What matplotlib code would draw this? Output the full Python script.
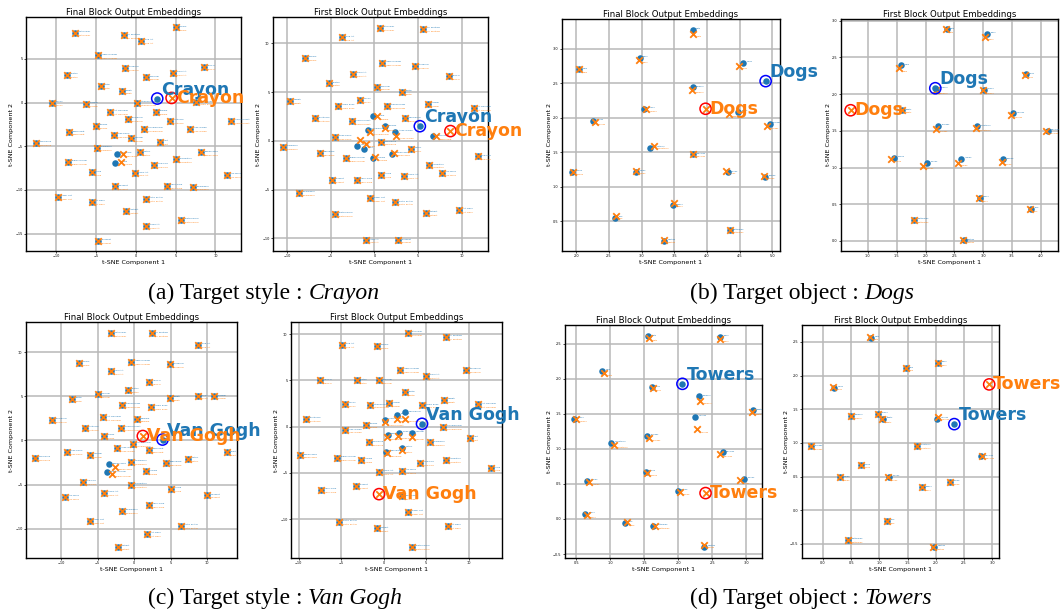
import numpy as np
import matplotlib
matplotlib.use("Agg")
import matplotlib.pyplot as plt
from matplotlib.text import Annotation

BLUE = "#1f77b4"
ORANGE = "#ff7f0e"

# small labels next to each point
style_names = ["Watercolor", "Oil Painting", "Pop Art", "Cubism", "Impressionism", "Surrealism",
               "Pixel Art", "Ukiyo-e", "Sketch", "Charcoal", "Pastel", "Graffiti", "Mosaic",
               "Origami", "Stained Glass", "Comic Book", "Art Nouveau", "Baroque", "Minimalism",
               "Pointillism", "Claude Monet", "Picasso", "Salvador Dali", "Andy Warhol",
               "Rembrandt", "Frida Kahlo", "Hokusai", "Klimt", "Cyberpunk", "Steampunk",
               "Vaporwave", "Gothic", "Renaissance", "Expressionism", "Fauvism", "Low Poly",
               "Claymation", "Anime", "Chalk Art", "Ink Wash", "Woodcut", "Neon Glow",
               "Embroidery", "Paper Cut", "Retro Poster", "Art Deco", "Abstract",
               "Photorealism", "Sand Art", "Blueprint", "Tattoo", "Doodle"]
object_names = ["Cats", "Birds", "Cars", "Trees", "Flowers", "Horses", "Boats", "Houses",
                "Bridges", "Mountains", "Bicycles", "Chairs", "Apples", "Clocks", "Lamps",
                "Books", "Fish", "Butterflies", "Castles", "Airplanes", "Guitars"]

# ---- (a) Crayon ----
a_final_blue = [(-7.6, 8.0), (-1.5, 7.7), (0.7, 7.1), (5.0, 8.6), (-4.7, 5.4), (-1.4, 4.0), (4.7, 3.4),
                (8.5, 4.1), (-8.6, 3.2), (1.3, 2.9), (-4.4, 1.9), (-1.75, 1.3), (-10.5, 0.0), (-6.2, -0.15),
                (0.2, -0.04), (7.5, 0.04), (-3.2, -1.07), (2.5, -1.1), (-1.0, -1.9), (4.25, -2.1),
                (11.9, -2.1), (-5.0, -2.7), (1.1, -3.0), (6.75, -3.0), (-8.3, -3.4), (-2.75, -3.7),
                (-0.6, -4.1), (3.0, -4.5), (-12.5, -4.6), (-4.9, -5.2), (-2.4, -5.9), (0.6, -5.7),
                (8.2, -5.7), (-8.5, -6.75), (-2.6, -6.9), (2.3, -7.1), (5.1, -6.5), (-5.5, -8.0),
                (-0.1, -8.1), (11.5, -8.3), (-2.6, -9.6), (3.9, -9.5), (7.2, -9.7), (-9.75, -10.8),
                (1.25, -11.0), (-5.5, -11.4), (-1.2, -12.4), (5.7, -13.4), (1.3, -14.1), (-4.75, -15.8)]
a_final_orange = [(-7.6, 8.0), (-1.5, 7.7), (0.7, 7.1), (5.0, 8.6), (-4.7, 5.4), (-1.4, 4.0), (4.7, 3.4),
                  (8.5, 4.1), (-8.6, 3.2), (1.3, 2.9), (-4.4, 1.9), (-1.75, 1.3), (-10.5, 0.0), (-6.2, -0.15),
                  (0.2, -0.04), (7.5, 0.04), (-3.2, -1.07), (2.5, -1.1), (-1.0, -1.9), (4.25, -2.1),
                  (11.9, -2.1), (-5.0, -2.7), (1.1, -3.0), (6.75, -3.0), (-8.3, -3.4), (-2.75, -3.7),
                  (-0.6, -4.1), (3.0, -4.5), (-12.5, -4.6), (-4.9, -5.2), (-1.6, -5.9), (0.6, -5.7),
                  (8.2, -5.7), (-8.5, -6.75), (-1.9, -6.8), (2.3, -7.1), (5.1, -6.5), (-5.5, -8.0),
                  (-0.1, -8.1), (11.5, -8.3), (-2.6, -9.6), (3.9, -9.5), (7.2, -9.7), (-9.75, -10.8),
                  (1.25, -11.0), (-5.5, -11.4), (-1.2, -12.4), (5.7, -13.4), (1.3, -14.1), (-4.75, -15.8)]
a_final_target = [(2.7, 0.46), (4.5, 0.53)]

a_first_blue = [(0.6, 11.6), (5.6, 11.5), (-3.7, 10.6), (-7.9, 8.5), (0.9, 8.0), (4.6, 7.7), (-2.4, 6.9),
                (8.5, 6.6), (-5.2, 5.9), (0.3, 5.5), (3.2, 5.0), (-9.6, 4.1), (-1.6, 4.2), (6.1, 3.8),
                (1.4, 3.6), (-4.2, 3.6), (11.4, 3.4), (-0.2, 2.5), (3.5, 2.3), (-6.75, 2.3), (-2.6, 2.0),
                (1.2, 1.5), (-0.75, 1.1), (2.4, 0.9), (6.75, 0.45), (-4.5, 0.4), (-1.95, -0.5),
                (-1.2, -0.85), (0.75, -0.15), (-10.5, -0.6), (-6.25, -1.2), (4.2, -0.8), (2.05, -1.3),
                (-3.2, -1.8), (-0.15, -1.8), (11.8, -1.6), (6.2, -2.5), (0.8, -3.5), (3.4, -3.6),
                (7.75, -3.3), (-4.9, -4.0), (-2.0, -4.0), (-8.6, -5.3), (-0.45, -5.9), (2.4, -6.3),
                (9.7, -7.1), (5.9, -7.4), (-4.5, -7.5), (-1.0, -10.2), (2.75, -10.2)]
a_first_orange = [(0.6, 11.6), (5.6, 11.5), (-3.7, 10.6), (-7.9, 8.5), (0.9, 8.0), (4.6, 7.7), (-2.4, 6.9),
                  (8.5, 6.6), (-5.2, 5.9), (0.3, 5.5), (3.2, 5.0), (-9.6, 4.1), (-1.6, 4.2), (6.1, 3.8),
                  (1.4, 3.6), (-4.2, 3.6), (11.4, 3.4), (0.27, 2.5), (3.5, 2.3), (-6.75, 2.3), (-2.6, 2.0),
                  (1.2, 1.3), (-0.45, 0.9), (2.5, 0.5), (7.1, 0.45), (-4.5, 0.4), (-1.7, 0.1),
                  (-0.95, -0.35), (0.75, -0.15), (-10.5, -0.6), (-6.25, -1.2), (4.2, -0.8), (2.2, -1.2),
                  (-3.2, -1.8), (0.1, -1.7), (11.8, -1.6), (6.2, -2.5), (0.8, -3.5), (3.4, -3.6),
                  (7.75, -3.3), (-4.9, -4.0), (-2.0, -4.0), (-8.6, -5.3), (-0.45, -5.9), (2.4, -6.3),
                  (9.7, -7.1), (5.9, -7.4), (-4.5, -7.5), (-1.0, -10.2), (2.75, -10.2)]
a_first_target = [(5.2, 1.5), (8.7, 1.0)]

# ---- (b) Dogs ----
b_final_blue = [(3.78, 3.27), (2.97, 2.87), (2.04, 2.70), (4.56, 2.79), (3.78, 2.44), (3.04, 2.13),
                (4.48, 2.09), (2.25, 1.95), (4.96, 1.91), (3.13, 1.56), (3.79, 1.47), (1.94, 1.22),
                (2.91, 1.22), (4.32, 1.21), (4.89, 1.14), (3.48, 0.73), (2.59, 0.55), (4.35, 0.37), (3.35, 0.22)]
b_final_orange = [(3.79, 3.21), (2.96, 2.84), (2.04, 2.70), (4.49, 2.75), (3.77, 2.40), (3.07, 2.13),
                  (4.34, 2.06), (2.28, 1.94), (4.92, 1.88), (3.19, 1.59), (3.79, 1.48), (1.95, 1.22),
                  (2.91, 1.23), (4.29, 1.23), (4.88, 1.16), (3.49, 0.76), (2.60, 0.58), (4.35, 0.38), (3.35, 0.23)]
b_final_target = [(4.90, 2.53), (3.98, 2.13)]

b_first_blue = [(2.37, 2.88), (3.07, 2.82), (1.58, 2.39), (3.74, 2.27), (2.19, 2.07), (3.01, 2.06),
                (1.59, 1.78), (3.52, 1.74), (2.22, 1.57), (2.89, 1.56), (4.12, 1.50), (1.46, 1.13),
                (2.62, 1.12), (2.03, 1.06), (3.35, 1.11), (2.94, 0.59), (3.83, 0.44), (1.80, 0.29), (2.66, 0.01)]
b_first_orange = [(2.35, 2.88), (3.04, 2.78), (1.54, 2.35), (3.72, 2.26), (2.18, 2.05), (3.00, 2.05),
                  (1.59, 1.78), (3.49, 1.72), (2.18, 1.53), (2.88, 1.54), (4.10, 1.50), (1.40, 1.12),
                  (2.56, 1.06), (1.96, 1.02), (3.32, 1.08), (2.92, 0.58), (3.82, 0.44), (1.80, 0.29), (2.65, 0.01)]
b_first_target = [(2.17, 2.08), (0.70, 1.78)]

# ---- (c) Van Gogh ----
c_final_blue = [(-3.1, 12.1), (2.4, 12.1), (8.8, 10.8), (-7.6, 8.8), (-0.4, 8.9), (4.9, 8.6), (-3.2, 7.8),
                (2.05, 6.6), (-0.8, 5.7), (-5.0, 5.2), (-8.5, 4.7), (4.9, 4.8), (8.7, 5.0), (11.0, 5.0),
                (-1.7, 4.0), (2.3, 3.8), (-4.2, 2.6), (0.45, 2.4), (-11.3, 2.3), (-6.75, 1.4), (-1.75, 1.4),
                (-4.15, 0.5), (-0.2, -0.4), (-2.3, -0.9), (2.0, -1.1), (-9.2, -1.3), (-6.0, -1.6),
                (12.7, -1.35), (-13.5, -2.0), (-0.4, -2.4), (4.4, -2.55), (7.4, -2.1), (-3.4, -2.7),
                (-3.7, -3.6), (1.6, -3.5), (-7.0, -4.7), (-0.4, -5.0), (5.1, -5.45), (-4.1, -5.9),
                (-9.4, -6.4), (10.0, -6.2), (2.05, -7.3), (-1.6, -8.0), (-6.1, -9.1), (6.4, -9.7),
                (1.8, -10.6), (-2.2, -12.0)]
c_final_orange = [(-3.1, 12.1), (2.4, 12.1), (8.8, 10.8), (-7.6, 8.8), (-0.4, 8.9), (4.9, 8.6), (-3.2, 7.8),
                  (2.05, 6.6), (-0.8, 5.7), (-5.0, 5.2), (-8.5, 4.7), (4.9, 4.8), (8.7, 5.0), (11.0, 5.0),
                  (-1.7, 4.0), (2.3, 3.8), (-4.2, 2.6), (0.45, 2.4), (-11.3, 2.3), (-6.75, 1.4), (-1.75, 1.4),
                  (-4.15, 0.5), (-0.2, -0.4), (-2.3, -0.9), (2.0, -1.1), (-9.2, -1.3), (-6.0, -1.6),
                  (12.7, -1.35), (-13.5, -2.0), (-0.4, -2.4), (4.4, -2.55), (7.4, -2.1), (-2.6, -3.0),
                  (-3.0, -3.8), (1.6, -3.5), (-7.0, -4.7), (-0.4, -5.0), (5.1, -5.45), (-4.1, -5.9),
                  (-9.4, -6.4), (10.0, -6.2), (2.05, -7.3), (-1.6, -8.0), (-6.1, -9.1), (6.4, -9.7),
                  (1.8, -10.6), (-2.2, -12.0)]
c_final_target = [(3.9, 0.1), (1.2, 0.5)]

c_first_blue = [(2.8, 10.1), (7.3, 9.7), (-4.9, 8.8), (-0.8, 8.7), (1.95, 6.1), (9.7, 6.1), (5.0, 5.5),
                (-7.5, 5.0), (-3.2, 5.0), (-0.5, 5.0), (2.5, 3.7), (7.1, 2.9), (-4.5, 2.45), (0.6, 2.5),
                (-1.6, 2.3), (4.5, 2.3), (11.1, 2.4), (1.6, 1.3), (2.5, 1.55), (-9.1, 0.8), (0.1, 0.7),
                (-2.1, 0.2), (7.0, 0.0), (-4.6, -0.4), (0.45, -0.9), (1.85, -0.7), (3.35, -0.7),
                (10.1, -1.2), (-1.75, -1.7), (5.4, -1.7), (0.3, -2.7), (2.2, -2.3), (-9.8, -3.1),
                (-5.5, -3.4), (-2.7, -3.6), (4.3, -3.9), (7.3, -3.6), (12.6, -4.5), (-0.5, -4.9),
                (2.15, -4.8), (-3.3, -6.4), (-7.4, -6.8), (2.2, -7.55), (2.9, -9.2), (-5.2, -10.3),
                (7.5, -10.75), (-0.8, -11.0), (3.3, -13.0)]
c_first_orange = [(2.8, 10.1), (7.3, 9.7), (-4.9, 8.8), (-0.8, 8.7), (1.95, 6.1), (9.7, 6.1), (5.0, 5.5),
                  (-7.5, 5.0), (-3.2, 5.0), (-0.5, 5.0), (2.5, 3.7), (7.1, 2.9), (-4.5, 2.45), (0.6, 2.5),
                  (-1.6, 2.3), (4.5, 2.3), (11.1, 2.4), (1.6, 0.8), (2.5, 0.85), (-9.1, 0.8), (0.15, 0.45),
                  (-2.1, 0.2), (7.0, 0.0), (-4.6, -0.4), (0.35, -1.15), (1.7, -1.0), (3.35, -1.1),
                  (10.1, -1.2), (-1.75, -1.7), (5.4, -1.7), (0.35, -2.9), (2.2, -2.5), (-9.8, -3.1),
                  (-5.5, -3.4), (-2.7, -3.6), (4.3, -3.9), (7.3, -3.6), (12.6, -4.5), (-0.5, -4.9),
                  (2.15, -4.8), (-3.3, -6.4), (-7.4, -6.8), (2.2, -7.55), (2.9, -9.2), (-5.2, -10.3),
                  (7.5, -10.75), (-0.8, -11.0), (3.3, -13.0)]
c_first_target = [(4.5, 0.3), (-0.55, -7.3)]

# ---- (d) Towers ----
d_final_blue = [(1.56, 2.61), (2.61, 2.60), (0.88, 2.12), (1.61, 1.88), (2.31, 1.75), (0.46, 1.43),
                (3.10, 1.55), (2.25, 1.46), (1.54, 1.19), (1.01, 1.09), (2.65, 0.95), (1.52, 0.67),
                (0.66, 0.54), (2.97, 0.57), (1.99, 0.40), (0.63, 0.07), (1.22, -0.06), (1.63, -0.10), (2.38, -0.40)]
d_final_orange = [(1.57, 2.59), (2.61, 2.57), (0.91, 2.09), (1.62, 1.87), (2.32, 1.69), (0.50, 1.43),
                  (3.08, 1.53), (2.28, 1.28), (1.57, 1.16), (1.05, 1.06), (2.61, 0.93), (1.54, 0.66),
                  (0.69, 0.53), (2.90, 0.55), (2.02, 0.39), (0.65, 0.06), (1.25, -0.05), (1.66, -0.10), (2.37, -0.37)]
d_final_target = [(2.06, 1.93), (2.40, 0.37)]

d_first_blue = [(0.86, 2.56), (2.04, 2.19), (1.47, 2.11), (0.20, 1.82), (0.50, 1.40), (0.97, 1.43),
                (1.07, 1.36), (2.02, 1.36), (-0.21, 0.95), (1.66, 0.96), (2.81, 0.80), (0.67, 0.67),
                (0.30, 0.49), (1.17, 0.50), (2.25, 0.42), (1.76, 0.34), (1.14, -0.16), (0.44, -0.44), (1.97, -0.54)]
d_first_orange = [(0.84, 2.57), (2.04, 2.19), (1.47, 2.12), (0.18, 1.83), (0.49, 1.40), (0.97, 1.43),
                  (1.05, 1.35), (2.04, 1.39), (-0.21, 0.95), (1.66, 0.96), (2.82, 0.81), (0.67, 0.67),
                  (0.30, 0.49), (1.15, 0.49), (2.25, 0.42), (1.75, 0.34), (1.14, -0.16), (0.44, -0.44), (1.96, -0.54)]
d_first_target = [(2.33, 1.28), (2.95, 1.87)]

W, H = 1061, 613
fig = plt.figure(figsize=(W / 100, H / 100), dpi=100)


def px_axes(l, r, t, b):
    return fig.add_axes([l / W, 1 - b / H, (r - l) / W, (b - t) / H])


def panel(box, title, blue, orange, names, target, word, xlim, ylim, xticks, yticks):
    ax = px_axes(*box)
    ax.set_axisbelow(True)
    ax.grid(True, color="#b8b8b8", lw=1.1)
    bx, by = np.array(blue).T
    ox, oy = np.array(orange).T
    ax.scatter(bx, by, s=22, color=BLUE, zorder=3, linewidths=0)
    ax.scatter(ox, oy, s=22, marker="x", color=ORANGE, zorder=4, linewidths=1.3)
    for i in range(len(bx)):
        ax.annotate(names[i], (bx[i], by[i]), xytext=(2.5, 0.5), textcoords="offset points",
                    fontsize=1.6, color=BLUE)
        ax.annotate(names[i], (ox[i], oy[i]), xytext=(2.5, -2.3), textcoords="offset points",
                    fontsize=1.6, color=ORANGE)
    (tbx, tby), (tox, toy) = target
    ax.scatter([tbx], [tby], s=22, color=BLUE, zorder=5, linewidths=0)
    ax.scatter([tbx], [tby], s=65, facecolors="none", edgecolors="blue", zorder=5, linewidths=1.1)
    ax.scatter([tox], [toy], s=22, marker="x", color=ORANGE, zorder=5, linewidths=1.3)
    ax.scatter([tox], [toy], s=65, facecolors="none", edgecolors="red", zorder=5, linewidths=1.1)
    ax.annotate(word, (tbx, tby), xytext=(3, 0), textcoords="offset points", fontsize=12.5,
                fontweight="bold", color=BLUE, ha="left", va="bottom", zorder=6,
                annotation_clip=False)
    ax.annotate(word, (tox, toy), xytext=(3, 0), textcoords="offset points", fontsize=12.5,
                fontweight="bold", color=ORANGE, ha="left", va="center", zorder=6,
                annotation_clip=False)
    ax.set_xlim(*xlim)
    ax.set_ylim(*ylim)
    ax.set_xticks(xticks)
    ax.set_yticks(yticks)
    ax.tick_params(labelsize=2.5, length=1.5, width=0.5, pad=1)
    ax.set_title(title, fontsize=6.2, pad=1.5)
    ax.set_xlabel("t-SNE Component 1", fontsize=4.6, labelpad=1)
    ax.set_ylabel("t-SNE Component 2", fontsize=4.6, labelpad=1)
    for sp in ax.spines.values():
        sp.set_linewidth(1.0)
    return ax


FINAL = "Final Block Output Embeddings"
FIRST = "First Block Output Embeddings"
t10 = [-10, -5, 0, 5, 10]

panel((26, 241, 17, 251), FINAL, a_final_blue, a_final_orange, style_names, a_final_target, "Crayon",
      (-13.75, 13.2), (-17.0, 9.8), t10, [-15, -10, -5, 0, 5])
panel((273, 488, 17, 251), FIRST, a_first_blue, a_first_orange, style_names, a_first_target, "Crayon",
      (-11.6, 13.0), (-11.3, 12.7), t10, t10)
panel((562, 780, 19, 251), FINAL, b_final_blue, b_final_orange, object_names, b_final_target, "Dogs",
      (1.78, 5.12), (0.07, 3.43), [2.0, 2.5, 3.0, 3.5, 4.0, 4.5, 5.0], [0.5, 1.0, 1.5, 2.0, 2.5, 3.0])
panel((841, 1058, 19, 251), FIRST, b_first_blue, b_first_orange, object_names, b_first_target, "Dogs",
      (0.533, 4.30), (-0.137, 3.023), [1.0, 1.5, 2.0, 2.5, 3.0, 3.5, 4.0],
      [0.0, 0.5, 1.0, 1.5, 2.0, 2.5, 3.0])
panel((26, 237, 322, 558), FINAL, c_final_blue, c_final_orange, style_names, c_final_target, "Van Gogh",
      (-14.8, 14.1), (-13.3, 13.4), t10, t10)
panel((291, 502, 322, 558), FIRST, c_first_blue, c_first_orange, style_names, c_first_target, "Van Gogh",
      (-10.9, 13.9), (-14.2, 11.3), t10, t10)
panel((565, 762, 325, 558), FINAL, d_final_blue, d_final_orange, object_names, d_final_target, "Towers",
      (0.333, 3.23), (-0.557, 2.77), [0.5, 1.0, 1.5, 2.0, 2.5, 3.0],
      [-0.5, 0.0, 0.5, 1.0, 1.5, 2.0, 2.5])
panel((802, 999, 325, 558), FIRST, d_first_blue, d_first_orange, object_names, d_first_target, "Towers",
      (-0.373, 3.124), (-0.708, 2.752), [0.0, 0.5, 1.0, 1.5, 2.0, 2.5, 3.0],
      [-0.5, 0.0, 0.5, 1.0, 1.5, 2.0, 2.5])

# sub-captions: upright prefix + italic target word
captions = [("(a) Target style :", "Crayon", 148, 293),
            ("(b) Target object :", "Dogs", 690, 293),
            ("(c) Target style :", "Van Gogh", 148, 598),
            ("(d) Target object :", "Towers", 690, 598)]
for pre, word, x, y in captions:
    t = fig.text(x / W, 1 - y / H, pre, fontsize=17, family="Liberation Serif",
                 ha="left", va="center")
    fig.add_artist(Annotation(word, xy=(1, 0), xycoords=t, xytext=(4.3, 0),
                              textcoords="offset points", fontsize=17,
                              family="Liberation Serif", style="italic",
                              ha="left", va="bottom"))

fig.savefig("out.png", dpi=100)
